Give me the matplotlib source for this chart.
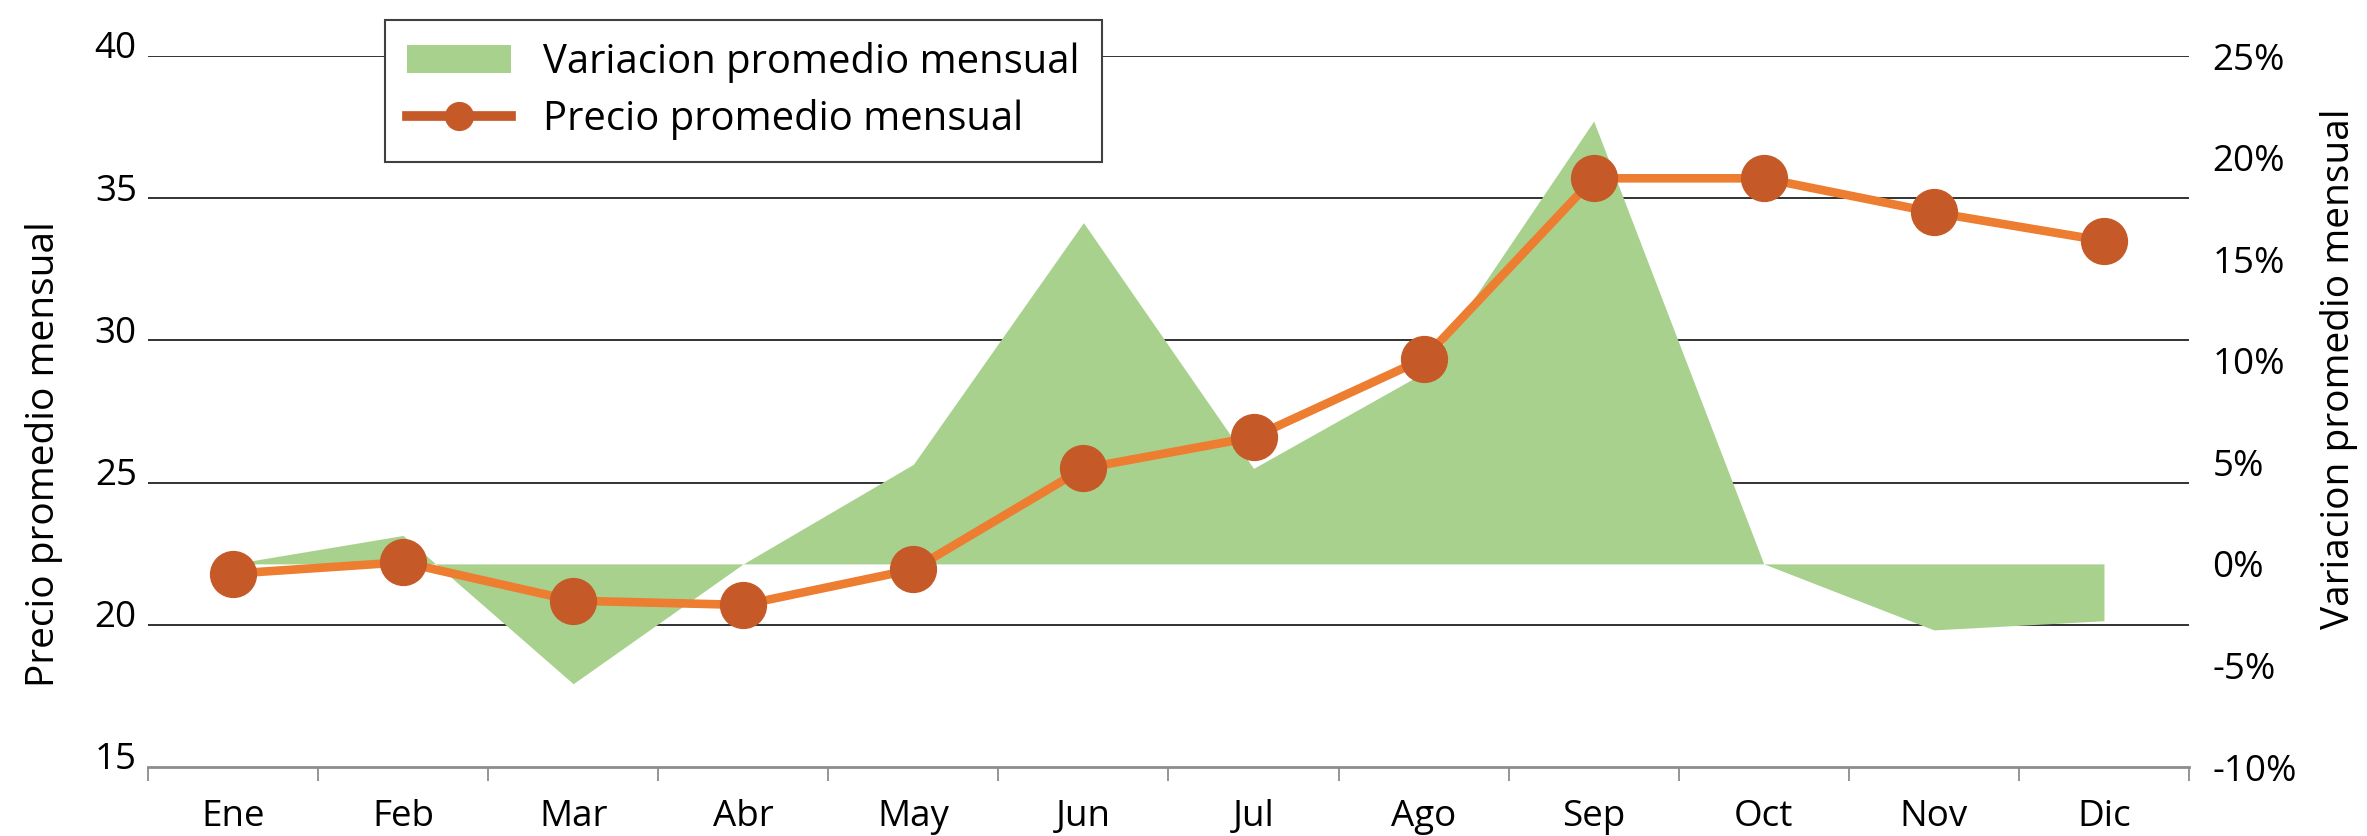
import matplotlib
matplotlib.use("Agg")
import matplotlib.pyplot as plt
import matplotlib.transforms as mtransforms
from matplotlib.lines import Line2D
from matplotlib.patches import Patch
import numpy as np

months = ["Ene", "Feb", "Mar", "Abr", "May", "Jun", "Jul", "Ago", "Sep", "Oct", "Nov", "Dic"]
precio = [21.8, 22.2, 20.85, 20.7, 21.95, 25.5, 26.6, 29.35, 35.7, 35.7, 34.5, 33.5]
variacion = [0.0, 1.4, -5.9, 0.0, 4.9, 16.8, 4.7, 9.4, 21.8, 0.0, -3.25, -2.8]
left_ticks = [15, 20, 25, 30, 35, 40]
right_ticks = [-10, -5, 0, 5, 10, 15, 20, 25]
right_labels = ["-10%", "-5%", "0%", "5%", "10%", "15%", "20%", "25%"]

plt.rcParams['font.family'] = ['Open Sans', 'DejaVu Sans']
FS = 26.5
FSL = 28
FSLEG = 28.8
GREEN = "#A9D18E"
ORANGE = "#ED7D31"
MARK = "#C55A28"

fig = plt.figure(figsize=(23.67, 8.36), dpi=100)
ax = fig.add_axes([0.0625, 0.0825, 0.8623, 0.8505])
ax2 = ax.twinx()
ax3 = ax.twinx()

x = np.arange(len(months))

# base axes: grid + left scale
ax.set_ylim(15, 40)
ax.set_xlim(-0.5, len(months) - 0.5)
ax.set_yticks(left_ticks)
ax.set_yticklabels([str(t) for t in left_ticks], fontsize=FS)
ax.tick_params(axis='y', length=0, pad=8)
for t in left_ticks[1:]:
    ax.axhline(t, color="#222222", lw=1.3, zorder=0)
for s in ["left", "right", "top"]:
    ax.spines[s].set_visible(False)
ax.spines["bottom"].set_color("#8c8c8c")
ax.spines["bottom"].set_linewidth(2)
ax.set_xticks(np.arange(-0.5, len(months), 1.0))
ax.set_xticklabels([])
ax.tick_params(axis='x', which='major', length=10, width=1.3, color="#8c8c8c")
ax.set_xticks(x, minor=True)
ax.set_xticklabels(months, minor=True, fontsize=FS)
ax.tick_params(axis='x', which='minor', length=0, pad=23)
ax.set_ylabel("Precio promedio mensual", fontsize=FSL)
ax.yaxis.set_label_coords(-0.0415, 0.44)
off = mtransforms.ScaledTranslation(0, 8 / 72, fig.dpi_scale_trans)
for lab in ax.get_yticklabels():
    lab.set_transform(lab.get_transform() + off)

# area on right scale
ax2.set_ylim(-10, 25)
ax2.fill_between(x, 0, variacion, color=GREEN, linewidth=0, interpolate=True)
ax2.set_yticks(right_ticks)
ax2.set_yticklabels(right_labels, fontsize=FS)
ax2.tick_params(axis='y', length=0, pad=17)
for s in ["left", "right", "top", "bottom"]:
    ax2.spines[s].set_visible(False)
ax2.set_ylabel("Variacion promedio mensual", fontsize=FSL)
ax2.yaxis.set_label_coords(1.064, 0.56)

# line on left scale, top layer
ax3.set_ylim(15, 40)
ax3.plot(x, precio, color=ORANGE, lw=6.2, marker='o', markersize=33,
         markerfacecolor=MARK, markeredgecolor=MARK, solid_capstyle='butt')
ax3.set_yticks([])
for s in ["left", "right", "top", "bottom"]:
    ax3.spines[s].set_visible(False)

handles = [Patch(facecolor=GREEN, edgecolor='none', label="Variacion promedio mensual"),
           Line2D([0], [0], color=MARK, lw=7, marker='o', markersize=20,
                  markerfacecolor=MARK, markeredgecolor=MARK, label="Precio promedio mensual")]
leg = ax3.legend(handles=handles, loc='upper left', bbox_to_anchor=(0.1627, 0.976),
                 bbox_transform=fig.transFigure, borderaxespad=0, fontsize=FSLEG,
                 fancybox=False, framealpha=1, edgecolor="#404040",
                 handlelength=2.6, handletextpad=0.8, borderpad=0.55, labelspacing=0.4)
leg.get_frame().set_linewidth(1.5)

fig.savefig("out.png", dpi=100)
